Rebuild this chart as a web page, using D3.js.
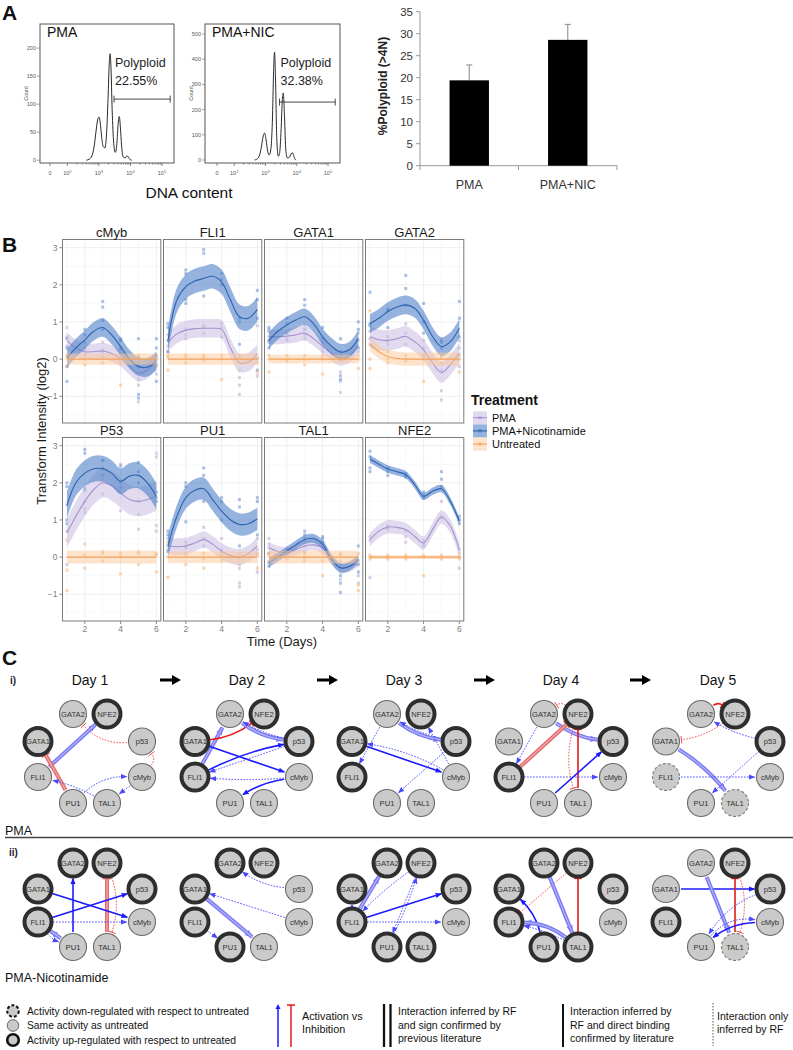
<!DOCTYPE html>
<html><head><meta charset="utf-8">
<script src="https://cdn.jsdelivr.net/npm/d3@7"></script>
<style>body{margin:0;background:#fff}svg{display:block;font-family:Arial,"Liberation Sans",sans-serif}</style>
</head><body><svg id="c" width="793" height="1050"></svg>
<script>
// ---------------- DATA ----------------
// Panel A: flow histograms, [log10 DNA content, count]
const histPMA = [[2.6,0],[2.7,2],[2.78,8],[2.85,25],[2.91,52],[2.96,72],[3.0,77],[3.04,68],[3.09,40],[3.14,24],[3.19,22],[3.24,45],[3.29,110],[3.33,175],[3.355,190],[3.38,170],[3.42,90],[3.47,30],[3.52,14],[3.57,30],[3.61,65],[3.645,78],[3.68,60],[3.72,25],[3.77,6],[3.83,4],[3.89,8],[3.94,5],[3.99,1],[4.04,0]];
const histNIC = [[2.65,0],[2.72,3],[2.8,15],[2.86,45],[2.92,90],[2.97,107],[3.02,80],[3.07,35],[3.12,20],[3.17,40],[3.22,150],[3.26,350],[3.29,428],[3.32,330],[3.36,90],[3.41,15],[3.45,25],[3.5,120],[3.54,240],[3.57,266],[3.61,170],[3.65,40],[3.7,8],[3.76,10],[3.82,24],[3.86,29],[3.9,18],[3.94,4],[3.98,0]];
const histXTickVals = [1.45,2,3,4,5];
const histXTickExp = ["",2,3,4,5];
const histYTicksPMA = [0,50,100,150,200];
const histYTicksNIC = [0,100,200,300,400,500];
const histLabels = ["PMA","PMA+NIC"];
const polyploidPct = ["22.55%","32.38%"];
const gatePMA = [3.48,5.26,109];
const gateNIC = [3.45,5.23,230];
// Panel A: bar chart
const barCats = ["PMA","PMA+NIC"];
const barMeans = [19.4,28.6];
const barErrTop = [22.9,32.1];
const barYTicks = [0,5,10,15,20,25,30,35];

// Panel B
const genes = ["cMyb","FLI1","GATA1","GATA2","P53","PU1","TAL1","NFE2"];
const treatments = ["PMA","PMA+Nicotinamide","Untreated"];
const fitDays = [1,1.5,2,2.5,3,3.5,4,4.5,5,5.5,6];
const pointDays = [1,2,3,4,5,6];
const fitPMA = [
 [0.5,0.3,0.2,0.2,0.22,0.15,0.02,-0.2,-0.38,-0.3,-0.05],
 [0.45,0.68,0.78,0.82,0.83,0.83,0.8,0.3,-0.1,-0.08,0.15],
 [0.6,0.6,0.62,0.65,0.7,0.55,0.35,0.15,0.02,0.1,0.35],
 [0.6,0.52,0.5,0.55,0.61,0.47,0.25,-0.1,-0.36,-0.15,0.16],
 [0.65,1.1,1.5,1.82,2.0,1.92,1.73,1.55,1.5,1.55,1.64],
 [0.3,0.28,0.3,0.38,0.47,0.35,0.16,0.04,0.0,0.1,0.3],
 [0.25,0.15,0.12,0.2,0.3,0.33,0.25,-0.05,-0.28,-0.25,-0.1],
 [0.47,0.7,0.81,0.8,0.74,0.56,0.38,0.74,1.08,0.83,0.2]
];
const fitNIC = [
 [0.03,0.3,0.52,0.75,0.85,0.65,0.34,0.0,-0.2,-0.22,-0.05],
 [0.5,1.59,1.95,2.1,2.17,2.23,2.08,1.59,1.14,1.1,1.34],
 [0.5,0.75,0.92,1.05,1.14,0.95,0.6,0.35,0.19,0.25,0.56],
 [0.96,1.1,1.28,1.4,1.46,1.37,1.05,0.61,0.34,0.47,0.83],
 [1.4,2.0,2.26,2.38,2.38,2.26,2.04,2.18,2.2,2.0,1.64],
 [0.3,1.1,1.6,1.8,1.84,1.55,1.24,1.0,0.88,0.9,1.03],
 [-0.15,0.0,0.16,0.33,0.47,0.5,0.34,-0.06,-0.29,-0.25,-0.06],
 [2.64,2.5,2.37,2.3,2.22,1.95,1.64,1.77,1.84,1.5,0.97]
];
const fitUNT = [
 [0,0,0,0,0,0,0,0,0,0,0],
 [0,0,0,0,0,0,0,0,0,0,0],
 [0,0,0,0,0,0,0,0,0,0,0],
 [0.4,0.2,0.07,0.02,0,0,0,0,0,0,0],
 [0,0,0,0,0,0,0,0,0,0,0],
 [0,0,0,0,0,0,0,0,0,0,0],
 [0,0,0,0,0,0,0,0,0,0,0],
 [0,0,0,0,0,0,0,0,0,0,0]
];
const sePMA = [0.22,0.25,0.2,0.28,0.4,0.22,0.15,0.18];
const seNIC = [0.25,0.33,0.22,0.25,0.35,0.3,0.12,0.1];
const seUNT = [0.15,0.15,0.12,0.18,0.17,0.16,0.17,0.05];
const ptsNIC = [
 [[-0.6,-0.2,0.3,0.55],[0.45,0.65,0.8],[1.05,1.4,1.55,0.8],[0.3,0.5,0.55],[-0.95,-1.05,-0.2,0.55],[-0.6,-0.15,0.3,0.55]],
 [[0.2,0.5,0.95,0.85],[1.5,1.6,2.3,2.4],[1.7,2.85,2.95],[2.0,2.15,2.3],[1.0,1.1,0.4],[1.1,1.85,1.6,-0.3]],
 [[0.5,0.75,0.85,0.3],[0.95,1.1,0.7],[1.6,1.45,0.8],[0.55,0.85,0.45],[-0.45,-0.55,0.55,0.2],[0.3,0.8,1.0]],
 [[1.8,0.9,0.95],[1.35,1.3,0.85],[2.25,1.9,1.45],[1.5,1.0,0.7],[0.5,0.45,0.3],[1.55,1.1,0.6]],
 [[2.0,1.9,1.0,0.9],[2.9,2.8,1.8,1.85],[2.6,2.2,2.4],[2.45,2.0,1.85],[2.55,2.3,2.0],[1.6,1.75,1.5]],
 [[0.7,0.6,0.15],[2.0,1.9,0.95],[2.4,2.2,1.5],[1.6,1.5,1.0],[1.55,1.35,0.3],[1.6,1.5,0.6]],
 [[-0.15,0.1,-0.25],[0.15,0.2,0.1],[0.7,0.5,0.6],[0.55,0.4,0.5],[-0.5,-0.7,-0.95],[0.3,-0.2,-0.4]],
 [[2.85,2.7,2.4,2.3],[2.4,2.3,2.2],[2.2,2.15,2.25],[1.65,1.6,1.75],[2.3,2.1,1.9],[1.0,0.9,1.1]]
];
const ptsPMA = [
 [[0.6,0.85,0.35],[0.1,0.3,0.25],[0.45,0.2,0.25],[0.0,0.25,0.15],[-0.7,-1.15,-0.55],[-0.4,0.1,0.0]],
 [[0.35,0.65,0.2],[0.55,0.8,0.65],[0.7,0.9,0.85],[0.6,0.85,0.95],[-0.5,-0.7,-0.95],[0.0,0.9,-0.45]],
 [[0.6,0.45,0.8],[0.55,0.5,0.7],[0.65,0.9,0.55],[0.3,0.4,0.2],[-0.6,-0.9,-0.35],[0.2,0.5,0.7]],
 [[0.55,0.75,0.4],[0.4,0.6,0.5],[0.95,0.7,0.4],[0.1,0.3,0.5],[-0.85,-1.1,-0.3],[-0.2,0.3,0.5]],
 [[0.7,1.4,-0.2],[1.3,1.2,1.5],[2.6,2.1,1.7],[1.9,1.25,2.5],[0.75,1.15,1.5],[2.8,2.7,0.7,0.85]],
 [[0.3,0.5,0.2],[0.3,0.25,0.4],[0.5,0.8,0.3],[0.5,0.2,0.1],[-0.7,-0.8,-0.3],[-0.4,0.2,0.5]],
 [[0.5,0.35,0.25],[0.2,0.1,0.25],[0.3,0.4,0.15],[0.2,0.3,0.4],[-0.4,-0.6,-0.2],[-0.7,-0.5,-0.1]],
 [[0.45,-0.55,0.55],[0.85,0.8,0.75],[0.7,0.55,0.4],[0.3,0.35,0.45],[1.5,1.1,1.05],[0.0,-0.3,0.2]]
];
const ptsUNT = [
 [[-0.2,0.1,0.05],[-0.15,0.15,0.0],[0.1,-0.1,0.05],[-0.7,-0.1,0.05],[-0.1,0.05,0.1],[-0.2,0.05,0.1]],
 [[-0.3,0.05,0.1],[0.05,-0.1,0.12],[-0.05,0.1,0.05],[-0.55,0.0,0.1],[-0.3,0.05,0.1],[-0.35,0.05,-0.1]],
 [[-0.35,0.0,0.1],[0.0,-0.05,0.1],[-0.15,0.1,0.0],[-0.4,0.0,0.1],[-0.05,0.1,0.05],[-0.25,0.0,0.1]],
 [[1.3,0.0,-0.25],[0.2,0.0,-0.1],[0.0,0.1,-0.05],[-0.6,0.0,0.1],[-0.1,0.05,0.1],[-0.35,0.0,0.1]],
 [[-0.9,-0.35,0.45],[0.35,-0.3,0.05],[0.15,-0.1,0.1],[-0.45,0.0,0.1],[-0.2,0.1,0.15],[-0.4,0.05,0.1]],
 [[-0.55,0.0,0.4],[-0.2,0.05,0.1],[-0.3,0.1,-0.05],[-0.1,0.05,0.15],[-0.2,0.0,0.1],[-0.3,0.05,0.1]],
 [[0.05,-0.1,0.1],[0.1,-0.05,0.15],[0.1,-0.1,0.0],[-0.5,-0.1,0.1],[0.1,-0.1,0.05],[-0.9,-0.75,0.1]],
 [[0.05,-0.05,0.0],[0.0,0.05,-0.05],[0.05,-0.05,0.0],[-0.5,0.0,0.05],[0.05,0.0,-0.05],[0.1,-0.05,0.0]]
];
const bYTicks = [-1,0,1,2,3];
const bXTicks = [2,4,6];

// Panel C: networks
const netNodes = ["GATA2","NFE2","GATA1","p53","FLI1","cMyb","PU1","TAL1"];
const netDays = ["Day 1","Day 2","Day 3","Day 4","Day 5"];
// node state: n = same, u = up-regulated, d = down-regulated (order of netNodes)
const statePMA = [
 ["n","u","u","n","n","n","n","n"],
 ["n","u","u","u","u","n","n","n"],
 ["n","u","u","u","u","n","n","n"],
 ["n","u","n","u","u","n","n","n"],
 ["n","u","n","u","d","n","n","d"]
];
const stateNIC = [
 ["u","u","u","u","u","n","n","n"],
 ["u","u","u","n","u","n","u","n"],
 ["u","u","u","u","u","n","u","u"],
 ["u","u","u","u","u","n","u","u"],
 ["n","u","n","u","u","n","n","d"]
];
// [source, target, sign (+ activation / - inhibition), evidence (lit / bind / rf), bend]
const edgesPMA = [
 [["FLI1","NFE2","+","lit",0],["PU1","GATA1","-","lit",0],["p53","GATA2","-","rf",-18],["cMyb","p53","-","rf",14],["PU1","cMyb","+","rf",-15],["TAL1","FLI1","+","rf",5],["cMyb","TAL1","+","rf",0]],
 [["FLI1","GATA2","+","lit",0],["GATA1","NFE2","-","bind",10],["GATA2","p53","+","lit",10],["p53","GATA2","+","rf",-6],["GATA1","cMyb","+","bind",0],["FLI1","p53","+","bind",-8],["cMyb","PU1","+","bind",8],["cMyb","FLI1","+","rf",-4],["p53","FLI1","+","rf",0]],
 [["GATA2","FLI1","+","rf",0],["cMyb","GATA1","+","rf",10],["GATA2","p53","+","lit",10],["p53","GATA2","+","rf",-6],["cMyb","NFE2","+","rf",0],["GATA1","cMyb","+","bind",0],["p53","PU1","+","rf",0]],
 [["NFE2","GATA2","-","rf",12],["GATA2","FLI1","+","rf",0],["GATA2","p53","+","lit",10],["FLI1","NFE2","-","lit",0],["TAL1","NFE2","-","bind",0],["NFE2","TAL1","-","rf",14],["PU1","p53","+","bind",0],["FLI1","cMyb","+","rf",0]],
 [["GATA2","NFE2","-","bind",-12],["NFE2","GATA1","-","rf",-10],["p53","GATA2","+","rf",-6],["GATA1","TAL1","+","lit",-8],["p53","PU1","+","rf",0],["FLI1","cMyb","+","rf",0]]
];
const edgesNIC = [
 [["PU1","GATA2","+","bind",0],["TAL1","NFE2","-","lit",0],["NFE2","TAL1","-","rf",-14],["GATA1","cMyb","+","bind",0],["FLI1","p53","+","bind",0],["FLI1","cMyb","+","rf",0],["PU1","FLI1","+","lit",0],["FLI1","PU1","+","rf",6]],
 [["p53","GATA2","+","rf",-10],["cMyb","GATA1","+","rf",0],["GATA1","TAL1","+","lit",0],["FLI1","PU1","+","rf",0]],
 [["FLI1","GATA2","+","lit",0],["FLI1","GATA1","+","rf",0],["NFE2","FLI1","+","rf",4],["NFE2","PU1","+","rf",0],["PU1","NFE2","+","rf",4],["FLI1","p53","+","bind",0],["FLI1","cMyb","+","rf",0]],
 [["NFE2","FLI1","-","rf",0],["GATA2","TAL1","+","lit",0],["TAL1","NFE2","-","bind",0],["PU1","GATA1","+","bind",10],["TAL1","FLI1","+","lit",12],["TAL1","FLI1","+","rf",4]],
 [["GATA1","p53","+","bind",0],["GATA2","TAL1","+","lit",0],["TAL1","NFE2","-","bind",0],["NFE2","TAL1","-","rf",-14],["cMyb","PU1","+","bind",12],["PU1","cMyb","+","rf",-20],["p53","PU1","+","rf",15]]
];

// ---------------- DRAWING ----------------
const svg = d3.select("#c");
const defs = svg.append("defs");

// panel letters
[["A",20],["B",252],["C",665]].forEach(([t,y]) => svg.append("text").attr("x",2).attr("y",y)
  .attr("font-size",21).attr("font-weight","bold").attr("fill","#111").text(t));

// ---- A: histograms
function drawHist(data, left, width, xr, yDom, yTicks, label, pct, gate) {
  const g = svg.append("g");
  const top = 24, bottom = 163;
  const x = d3.scaleLinear().domain([1.45,5]).range(xr);
  const y = d3.scaleLinear().domain(yDom).range([bottom,top]);
  g.append("rect").attr("x",left).attr("y",top).attr("width",width).attr("height",bottom-top)
    .attr("fill","none").attr("stroke","#555").attr("stroke-width",1);
  g.selectAll("line.yt").data(yTicks).join("line").attr("x1",left-3).attr("x2",left)
    .attr("y1",d=>y(d)).attr("y2",d=>y(d)).attr("stroke","#666").attr("stroke-width",0.6);
  g.selectAll("text.yl").data(yTicks).join("text").attr("x",left-4).attr("y",d=>y(d)+2)
    .attr("text-anchor","end").attr("font-size",5.5).attr("fill","#555").text(d=>d);
  g.append("text").attr("transform",`translate(${left-12},${(top+bottom)/2}) rotate(-90)`)
    .attr("text-anchor","middle").attr("font-size",5.5).attr("fill","#555").text("Count");
  const minor = [];
  for (let e=2;e<5;e++) for (let k=2;k<10;k++) minor.push(e+Math.log10(k));
  g.selectAll("line.mt").data(minor).join("line").attr("x1",d=>x(d)).attr("x2",d=>x(d))
    .attr("y1",bottom).attr("y2",bottom+1.8).attr("stroke","#555").attr("stroke-width",0.5);
  g.selectAll("line.xt").data(histXTickVals).join("line").attr("x1",d=>x(d)).attr("x2",d=>x(d))
    .attr("y1",bottom).attr("y2",bottom+3).attr("stroke","#555").attr("stroke-width",0.7);
  const tl = g.selectAll("text.xl").data(histXTickVals).join("text").attr("x",d=>x(d)).attr("y",bottom+12)
    .attr("text-anchor","middle").attr("font-size",5.5).attr("fill","#555");
  tl.each(function(d,i){
    const t = d3.select(this);
    if (i===0) { t.text("0"); return; }
    t.append("tspan").text("10");
    t.append("tspan").attr("dy",-2.5).attr("font-size",4).text(histXTickExp[i]);
  });
  g.append("path").datum(data)
    .attr("d", d3.line().x(d=>x(d[0])).y(d=>y(d[1])).curve(d3.curveMonotoneX))
    .attr("fill","none").attr("stroke","#2a2a2a").attr("stroke-width",1);
  g.append("text").attr("x",left+7).attr("y",37).attr("font-size",14).attr("fill","#111").text(label);
  g.append("text").attr("x",x(gate[0])+1).attr("y",67).attr("font-size",12.5).attr("fill","#222").text("Polyploid");
  g.append("text").attr("x",x(gate[0])+1).attr("y",85).attr("font-size",12.5).attr("fill","#222").text(pct);
  const gy = y(gate[2]);
  g.append("line").attr("x1",x(gate[0])).attr("x2",x(gate[1])).attr("y1",gy).attr("y2",gy).attr("stroke","#333").attr("stroke-width",0.9);
  [gate[0],gate[1]].forEach(v => g.append("line").attr("x1",x(v)).attr("x2",x(v)).attr("y1",gy-3.5).attr("y2",gy+3.5).attr("stroke","#333").attr("stroke-width",0.9));
}
drawHist(histPMA, 40, 134, [50,162], [-5,243], histYTicksPMA, histLabels[0], polyploidPct[0], gatePMA);
drawHist(histNIC, 205, 135, [217,328], [-12,540], histYTicksNIC, histLabels[1], polyploidPct[1], gateNIC);
svg.append("text").attr("x",189).attr("y",198).attr("text-anchor","middle").attr("font-size",15.5).attr("fill","#111").text("DNA content");

// ---- A: bar chart
(function(){
  const g = svg.append("g");
  const y = d3.scaleLinear().domain([0,35]).range([165.7,11.7]);
  const x = d3.scaleBand().domain(barCats).range([420,617]).paddingInner(0.6).paddingOuter(0.3);
  g.append("line").attr("x1",420).attr("x2",420).attr("y1",11.7).attr("y2",165.7).attr("stroke","#999");
  g.append("line").attr("x1",420).attr("x2",617).attr("y1",165.7).attr("y2",165.7).attr("stroke","#999");
  g.selectAll("line.yt").data(barYTicks).join("line").attr("x1",416).attr("x2",420)
    .attr("y1",d=>y(d)).attr("y2",d=>y(d)).attr("stroke","#999");
  g.selectAll("text.yl").data(barYTicks).join("text").attr("x",413).attr("y",d=>y(d)+4)
    .attr("text-anchor","end").attr("font-size",11.5).attr("fill","#333").text(d=>d);
  [420,518.5,617].forEach(v => g.append("line").attr("x1",v).attr("x2",v).attr("y1",165.7).attr("y2",170).attr("stroke","#999"));
  g.selectAll("line.err").data(barCats).join("line").attr("x1",d=>x(d)+x.bandwidth()/2).attr("x2",d=>x(d)+x.bandwidth()/2)
    .attr("y1",(d,i)=>y(barMeans[i])).attr("y2",(d,i)=>y(barErrTop[i])).attr("stroke","#999").attr("stroke-width",1.2);
  g.selectAll("line.cap").data(barCats).join("line").attr("x1",d=>x(d)+x.bandwidth()/2-3).attr("x2",d=>x(d)+x.bandwidth()/2+3)
    .attr("y1",(d,i)=>y(barErrTop[i])).attr("y2",(d,i)=>y(barErrTop[i])).attr("stroke","#999").attr("stroke-width",1.2);
  g.selectAll("rect.bar").data(barCats).join("rect").attr("x",d=>x(d)).attr("width",x.bandwidth())
    .attr("y",(d,i)=>y(barMeans[i])).attr("height",(d,i)=>165.7-y(barMeans[i])).attr("fill","#000");
  g.selectAll("text.xl").data(barCats).join("text").attr("x",d=>x(d)+x.bandwidth()/2).attr("y",189)
    .attr("text-anchor","middle").attr("font-size",12.5).attr("fill","#333").text(d=>d);
  g.append("text").attr("transform","translate(387,86) rotate(-90)").attr("text-anchor","middle")
    .attr("font-size",12).attr("font-weight","bold").attr("fill","#222").text("%Polyploid (>4N)");
})();

// ---- B: facets
const trStyle = [
  {fit:fitPMA, se:sePMA, pts:ptsPMA, line:"#a592cb", fill:"#cbbde3", fo:0.55, pt:"#b4a4d8"},
  {fit:fitNIC, se:seNIC, pts:ptsNIC, line:"#2d62ae", fill:"#4f80c8", fo:0.6, pt:"#5585cc"},
  {fit:fitUNT, se:seUNT, pts:ptsUNT, line:"#f4a25a", fill:"#fbc897", fo:0.5, pt:"#f7ae6b"}
];
const colX = [62.5,163.5,264.5,365.5], colW = 98.3, rowY = [239.5,437.5], rowH = 183.5;
genes.forEach((gname, gi) => {
  const r = Math.floor(gi/4), c = gi%4;
  const L = colX[c], T = rowY[r];
  const x = d3.scaleLinear().domain([0.75,6.25]).range([L,L+colW]);
  const y = d3.scaleLinear().domain([-1.72,3.22]).range([T+rowH,T]);
  const g = svg.append("g");
  const cid = "clip"+gi;
  defs.append("clipPath").attr("id",cid).append("rect").attr("x",L).attr("y",T).attr("width",colW).attr("height",rowH);
  g.append("rect").attr("x",L).attr("y",T).attr("width",colW).attr("height",rowH).attr("fill","#fff");
  const inner = g.append("g").attr("clip-path",`url(#${cid})`);
  inner.selectAll("line.gy").data([-1.5,-0.5,0.5,1.5,2.5]).join("line").attr("x1",L).attr("x2",L+colW)
    .attr("y1",d=>y(d)).attr("y2",d=>y(d)).attr("stroke","#f5f5f5").attr("stroke-width",0.6);
  inner.selectAll("line.gx").data([1,3,5]).join("line").attr("y1",T).attr("y2",T+rowH)
    .attr("x1",d=>x(d)).attr("x2",d=>x(d)).attr("stroke","#f5f5f5").attr("stroke-width",0.6);
  inner.selectAll("line.gY").data(bYTicks).join("line").attr("x1",L).attr("x2",L+colW)
    .attr("y1",d=>y(d)).attr("y2",d=>y(d)).attr("stroke","#ebebeb").attr("stroke-width",0.8);
  inner.selectAll("line.gX").data(bXTicks).join("line").attr("y1",T).attr("y2",T+rowH)
    .attr("x1",d=>x(d)).attr("x2",d=>x(d)).attr("stroke","#ebebeb").attr("stroke-width",0.8);
  trStyle.forEach(ts => {
    const pts = [];
    ts.pts[gi].forEach((vals, di) => vals.forEach(v => pts.push([pointDays[di], v])));
    inner.selectAll(null).data(pts).join("rect").attr("x",d=>x(d[0])-1.5).attr("y",d=>y(d[1])-1.5)
      .attr("width",3).attr("height",3).attr("fill",ts.pt).attr("opacity",0.5);
  });
  trStyle.forEach(ts => {
    const f = ts.fit[gi], se = ts.se[gi];
    const dat = fitDays.map((d,i)=>[d,f[i]]);
    inner.append("path").datum(dat)
      .attr("d", d3.area().x(d=>x(d[0])).y0(d=>y(d[1]-se)).y1(d=>y(d[1]+se)).curve(d3.curveCatmullRom))
      .attr("fill",ts.fill).attr("opacity",ts.fo);
    inner.append("path").datum(dat)
      .attr("d", d3.line().x(d=>x(d[0])).y(d=>y(d[1])).curve(d3.curveCatmullRom))
      .attr("fill","none").attr("stroke",ts.line).attr("stroke-width",1.1);
  });
  g.append("rect").attr("x",L).attr("y",T).attr("width",colW).attr("height",rowH)
    .attr("fill","none").attr("stroke","#7a7a7a").attr("stroke-width",1);
  g.append("text").attr("x",L+colW/2).attr("y",T-3).attr("text-anchor","middle").attr("font-size",13).attr("fill","#1a1a1a").text(gname);
  if (c===0) {
    g.selectAll("line.yt").data(bYTicks).join("line").attr("x1",L-3).attr("x2",L).attr("y1",d=>y(d)).attr("y2",d=>y(d)).attr("stroke","#888");
    g.selectAll("text.yl").data(bYTicks).join("text").attr("x",L-5).attr("y",d=>y(d)+3).attr("text-anchor","end")
      .attr("font-size",8.5).attr("fill","#7d7d7d").text(d=>d<0?"\u2212"+Math.abs(d):d);
  }
  if (r===1) {
    g.selectAll("line.xt").data(bXTicks).join("line").attr("y1",T+rowH).attr("y2",T+rowH+3).attr("x1",d=>x(d)).attr("x2",d=>x(d)).attr("stroke","#888");
    g.selectAll("text.xl").data(bXTicks).join("text").attr("x",d=>x(d)).attr("y",T+rowH+11).attr("text-anchor","middle")
      .attr("font-size",8.5).attr("fill","#7d7d7d").text(d=>d);
  }
});
svg.append("text").attr("transform","translate(46,431) rotate(-90)").attr("text-anchor","middle").attr("font-size",13).attr("fill","#1a1a1a").text("Transform Intensity (log2)");
svg.append("text").attr("x",282).attr("y",646).attr("text-anchor","middle").attr("font-size",13).attr("fill","#1a1a1a").text("Time (Days)");
svg.append("text").attr("x",471).attr("y",405).attr("font-size",14).attr("font-weight","bold").attr("fill","#111").text("Treatment");
treatments.forEach((t,i) => {
  const ts = trStyle[i], cy = 417.7 + i*13.2;
  svg.append("rect").attr("x",473).attr("y",cy-6.5).attr("width",14).attr("height",13).attr("fill",ts.fill).attr("opacity",ts.fo);
  svg.append("line").attr("x1",473).attr("x2",487).attr("y1",cy).attr("y2",cy).attr("stroke",ts.line).attr("stroke-width",1.1);
  svg.append("rect").attr("x",478.5).attr("y",cy-1.5).attr("width",3).attr("height",3).attr("fill",ts.line).attr("opacity",0.6);
  svg.append("text").attr("x",492).attr("y",cy+4).attr("font-size",11).attr("fill","#111").text(t);
});

// ---- C: networks
const colBlue = {lit:"#7b7bf2", bind:"#1b1bff", rf:"#4848ff"};
const colRed = {lit:"#e46c6c", bind:"#e31b1b", rf:"#f24848"};
const widths = {lit:4, bind:1.6, rf:1};
["lit","bind","rf"].forEach(ev => {
  defs.append("marker").attr("id","arr-"+ev).attr("viewBox","0 -4 8 8").attr("refX",7).attr("refY",0)
    .attr("markerWidth",ev==="lit"?8:6.5).attr("markerHeight",ev==="lit"?8:6.5).attr("markerUnits","userSpaceOnUse").attr("orient","auto")
    .append("path").attr("d","M0,-3.2L8,0L0,3.2Z").attr("fill",colBlue[ev]);
  defs.append("marker").attr("id","tee-"+ev).attr("viewBox","-2 -6 4 12").attr("refX",0).attr("refY",0)
    .attr("markerWidth",4).attr("markerHeight",ev==="lit"?11:9).attr("markerUnits","userSpaceOnUse").attr("orient","auto")
    .append("path").attr("d","M0,-5L0,5").attr("stroke",colRed[ev]).attr("stroke-width",ev==="rf"?1.2:1.8);
});
const dayCX = [90,247,404,561,718];
const nodeDX = {GATA2:-17,NFE2:17,GATA1:-52,p53:52,FLI1:-52,cMyb:52,PU1:-17,TAL1:17};
const nodeLevel = {GATA2:0,NFE2:0,GATA1:1,p53:1,FLI1:2,cMyb:2,PU1:3,TAL1:3};
const rowLevels = [[714,741.5,777,803],[863,889,922,947]];
const R = 13.5;
function drawNet(cx, levels, states, edges) {
  const g = svg.append("g");
  const pos = {};
  netNodes.forEach(n => pos[n] = {x:cx+nodeDX[n], y:levels[nodeLevel[n]]});
  edges.forEach(([s,t,sign,ev,bend]) => {
    const a = pos[s], b = pos[t];
    const dx = b.x-a.x, dy = b.y-a.y, L = Math.hypot(dx,dy);
    const qx = (a.x+b.x)/2 + (-dy/L)*bend, qy = (a.y+b.y)/2 + (dx/L)*bend;
    const ua = [qx-a.x, qy-a.y], la = Math.hypot(...ua);
    const ub = [qx-b.x, qy-b.y], lb = Math.hypot(...ub);
    const ra = R+1.5, rb = R+2;
    const p = d3.path();
    p.moveTo(a.x+ua[0]/la*ra, a.y+ua[1]/la*ra);
    p.quadraticCurveTo(qx,qy,b.x+ub[0]/lb*rb, b.y+ub[1]/lb*rb);
    const col = sign==="+" ? colBlue[ev] : colRed[ev];
    const path = g.append("path").attr("d",p.toString()).attr("fill","none").attr("stroke",col)
      .attr("stroke-width",widths[ev]).attr("marker-end",`url(#${sign==="+"?"arr":"tee"}-${ev})`);
    if (ev==="rf") path.attr("stroke-dasharray","1.6,1.4");
    if (ev==="lit") g.append("path").attr("d",p.toString()).attr("fill","none")
      .attr("stroke",sign==="+"?"#b9b9ff":"#f2b0b0").attr("stroke-width",1.1);
  });
  netNodes.forEach((n,i) => {
    const st = states[i];
    g.append("circle").attr("cx",pos[n].x).attr("cy",pos[n].y).attr("r",R).attr("fill","#cacaca")
      .attr("stroke", st==="u" ? "#2e2e2e" : (st==="d" ? "#7a7a7a" : "#6a6a6a"))
      .attr("stroke-width", st==="u" ? 4 : 1.1)
      .attr("stroke-dasharray", st==="d" ? "3,2" : null);
    g.append("text").attr("x",pos[n].x).attr("y",pos[n].y+2.8).attr("text-anchor","middle")
      .attr("font-size",7.6).attr("fill","#333").text(n);
  });
}
netDays.forEach((d,i) => {
  svg.append("text").attr("x",dayCX[i]).attr("y",685).attr("text-anchor","middle").attr("font-size",14).attr("fill","#111").text(d);
  drawNet(dayCX[i], rowLevels[0], statePMA[i], edgesPMA[i]);
  drawNet(dayCX[i], rowLevels[1], stateNIC[i], edgesNIC[i]);
});
[170,327,484,640].forEach(ax => {
  svg.append("line").attr("x1",ax-10).attr("x2",ax+4).attr("y1",680).attr("y2",680).attr("stroke","#000").attr("stroke-width",3);
  svg.append("path").attr("d",`M${ax+2},675L${ax+11},680L${ax+2},685Z`).attr("fill","#000");
});
svg.append("text").attr("x",10).attr("y",684).attr("font-size",10).attr("font-weight","bold").attr("fill","#223").text("i)");
svg.append("text").attr("x",9).attr("y",856).attr("font-size",10).attr("font-weight","bold").attr("fill","#223").text("ii)");
svg.append("text").attr("x",5).attr("y",835).attr("font-size",12.5).attr("fill","#111").text("PMA");
svg.append("line").attr("x1",5).attr("x2",793).attr("y1",837.5).attr("y2",837.5).attr("stroke","#444").attr("stroke-width",1.3);
svg.append("text").attr("x",5).attr("y",982).attr("font-size",12.5).attr("fill","#111").text("PMA-Nicotinamide");

const legNode = [["d","Activity down-regulated with respect to untreated"],["n","Same activity as untreated"],["u","Activity up-regulated with respect to untreated"]];
legNode.forEach(([st,t],i) => {
  const cy = 1011 + i*14.5;
  svg.append("circle").attr("cx",13).attr("cy",cy).attr("r",5.8).attr("fill","#cacaca")
    .attr("stroke", st==="n"?"#555":"#111")
    .attr("stroke-width", st==="u"?2.6:(st==="d"?2:0.9))
    .attr("stroke-dasharray", st==="d"?"3,2":null);
  svg.append("text").attr("x",27).attr("y",cy+3.6).attr("font-size",10.3).attr("fill","#111").text(t);
});
svg.append("line").attr("x1",278).attr("x2",278).attr("y1",1047).attr("y2",1008).attr("stroke","#1b1bff").attr("stroke-width",1.5);
svg.append("path").attr("d","M275.5,1009L278,1004L280.5,1009Z").attr("fill","#1b1bff");
svg.append("line").attr("x1",291).attr("x2",291).attr("y1",1047).attr("y2",1005).attr("stroke","#e31b1b").attr("stroke-width",1.5);
svg.append("line").attr("x1",287).attr("x2",295).attr("y1",1005).attr("y2",1005).attr("stroke","#e31b1b").attr("stroke-width",1.5);
[["Activation vs",1020],["Inhibition",1033]].forEach(([t,y]) => svg.append("text").attr("x",302).attr("y",y).attr("font-size",10.8).attr("fill","#111").text(t));
[384,390.5].forEach(x => svg.append("line").attr("x1",x).attr("x2",x).attr("y1",1004).attr("y2",1047).attr("stroke","#111").attr("stroke-width",2.3));
[["Interaction inferred by RF",1015],["and sign confirmed by",1028.5],["previous literature",1042]].forEach(([t,y]) => svg.append("text").attr("x",398).attr("y",y).attr("font-size",10.5).attr("fill","#111").text(t));
svg.append("line").attr("x1",563).attr("x2",563).attr("y1",1004).attr("y2",1047).attr("stroke","#111").attr("stroke-width",2);
[["Interaction inferred by",1015],["RF and direct binding",1028.5],["confirmed by literature",1042]].forEach(([t,y]) => svg.append("text").attr("x",570).attr("y",y).attr("font-size",10.5).attr("fill","#111").text(t));
svg.append("line").attr("x1",713).attr("x2",713).attr("y1",1003).attr("y2",1046).attr("stroke","#555").attr("stroke-width",1).attr("stroke-dasharray","1.5,1.5");
[["Interaction only",1020],["inferred by RF",1033]].forEach(([t,y]) => svg.append("text").attr("x",717).attr("y",y).attr("font-size",10.5).attr("fill","#111").text(t));
</script></body></html>
